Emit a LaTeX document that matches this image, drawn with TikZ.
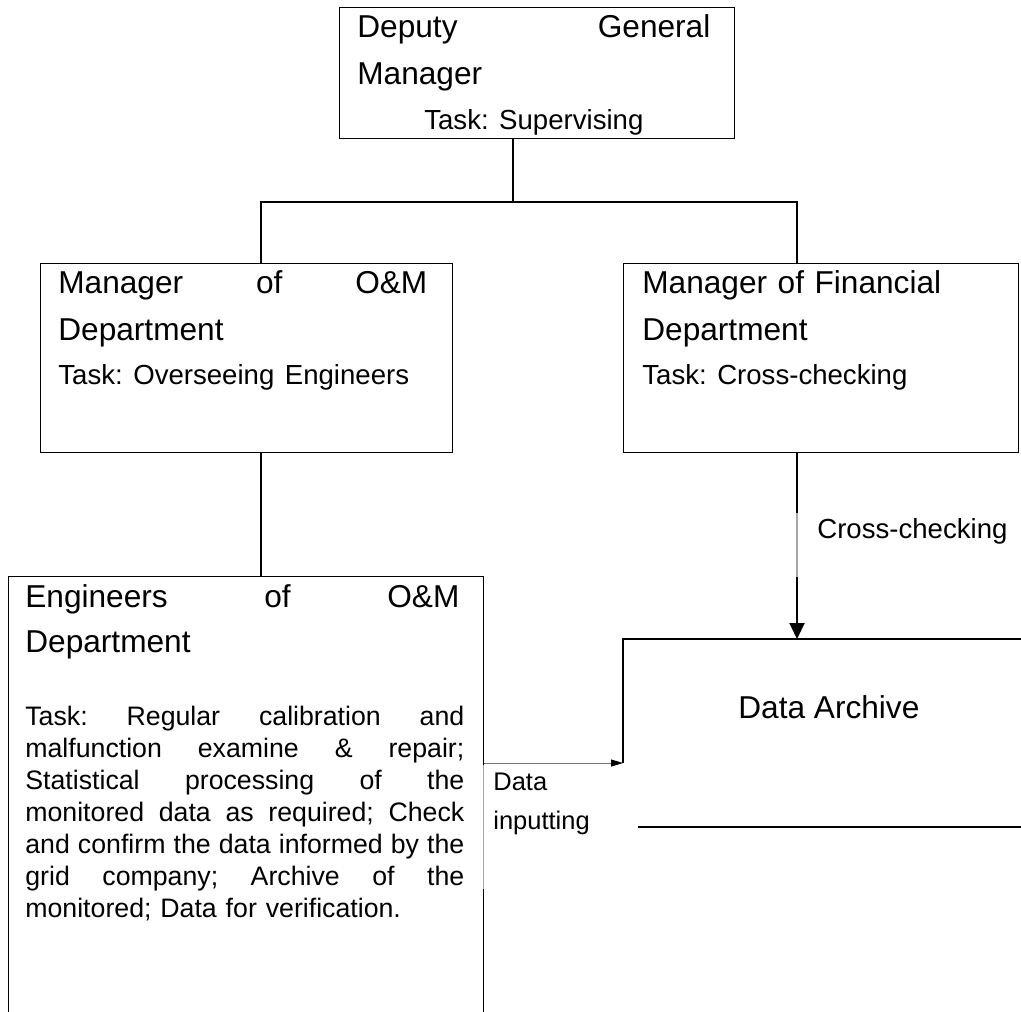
\documentclass[tikz,border=0pt]{standalone}
\usepackage{fontspec}
\setmainfont{Liberation Sans}
\usepackage{tikz}
\usetikzlibrary{arrows.meta,calc,positioning}
\newcommand{\bigtext}{\fontsize{18}{27.3}\selectfont\frenchspacing}
\newcommand{\tasktext}{\fontsize{15.7}{20}\selectfont\frenchspacing}
\newcommand{\smalltext}{\fontsize{15.2}{18.3}\selectfont\frenchspacing}
\newcommand{\fullline}[1]{\makebox[\linewidth][s]{\spaceskip=0pt\relax #1}}

\begin{document}
\begin{tikzpicture}[
  box/.style={draw, rectangle, inner sep=0pt, anchor=north west, line width=0.8pt},
  txt/.style={anchor=base west, inner sep=0pt, align=left, font=\bigtext},
  link/.style={line width=0.8pt},
  flow/.style={line width=1.1pt, -{Triangle[length=0.32cm,width=0.30cm]}},
  inflow/.style={line width=0.5pt, black!55, -{Triangle[length=0.24cm,width=0.14cm,color=black]}}
  ]
\useasboundingbox (0cm,0cm) rectangle (20.42cm,-20.22cm);
% boxes
\node[box, minimum width=7.90cm, minimum height=2.62cm] (dgm) at (6.78cm,-0.14cm) {};
\node[box, minimum width=8.24cm, minimum height=3.78cm] (omm) at (0.80cm,-5.26cm) {};
\node[box, minimum width=7.90cm, minimum height=3.78cm] (fin) at (12.46cm,-5.26cm) {};
\node[box, minimum width=9.50cm, minimum height=9.20cm] (eng) at (0.16cm,-11.52cm) {};
\coordinate (archtop) at (12.46cm,-12.78cm);
\coordinate (archin) at (12.46cm,-15.26cm);
\draw[link] (20.6cm,-12.78cm) -- (archtop) -- (archin);
\draw[link] (12.76cm,-16.54cm) -- (20.6cm,-16.54cm);
% texts
\node[txt, text width=7.06cm] (dgmtxt) at (7.14cm,-0.74cm) {Deputy\hfill General\\ Manager\\[-0.06cm] \makebox[\linewidth]{\tasktext Task: Supervising}};
\node[txt, text width=7.38cm] (ommtxt) at (1.16cm,-5.86cm) {Manager\hfill of\hfill O\&M\\ Department\\[-0.08cm] {\tasktext Task: Overseeing Engineers}};
\node[txt, text width=7.00cm] (fintxt) at (12.84cm,-5.86cm) {Manager of Financial\\ Department\\[-0.08cm] {\tasktext Task: Cross-checking}};
\node[txt, text width=8.68cm] (engtitle) at (0.50cm,-12.14cm) {Engineers\hfill of\hfill O\&M\\[-0.04cm] Department};
\node[txt, text width=8.78cm, font=\smalltext] (engtask) at (0.50cm,-14.50cm) {\fullline{Task: Regular calibration and}\\
\fullline{malfunction examine \& repair;}\\
\fullline{Statistical processing of the}\\
\fullline{monitored data as required; Check}\\
\fullline{and confirm the data informed by the}\\
\fullline{grid company; Archive of the}\\
monitored; Data for verification.};
\node[txt] (arch) at (14.76cm,-14.36cm) {Data Archive};
% connectors
\coordinate (junc) at (10.26cm,-4.04cm);
\draw[link] (dgm.south -| junc) -- (junc);
\draw[link] ($(omm.north west)+(4.42cm,0)$) |- (junc) -| ($(fin.north west)+(3.48cm,0)$);
\draw[link] ($(omm.south west)+(4.42cm,0)$) coordinate (ombot) -- (ombot |- eng.north);
\draw[flow] ($(fin.south west)+(3.48cm,0)$) coordinate (finbot) -- (finbot |- archtop);
\draw[inflow] (eng.east |- archin) -- (archin);
% labels
\fill[white, fill opacity=0.65] (15.80cm,-10.26cm) rectangle (16.10cm,-11.54cm);
\node[txt, font=\tasktext] (crosslab) at (16.34cm,-10.76cm) {Cross-checking};
\fill[white, fill opacity=0.65] (9.60cm,-15.30cm) rectangle (9.74cm,-17.78cm);
\node[txt, text width=2.4cm, font=\fontsize{14.5}{22.2}\selectfont] (inlab) at (9.86cm,-15.80cm) {Data\\ inputting};
\end{tikzpicture}
\end{document}
